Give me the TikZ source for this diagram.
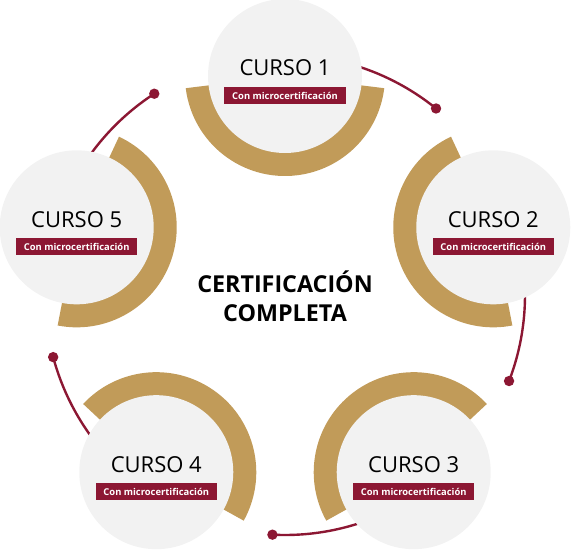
\documentclass[tikz,border=0pt]{standalone}
\usepackage{fontspec}
\setmainfont{Open Sans}
\usetikzlibrary{calc}
\definecolor{gold}{HTML}{C19B59}
\definecolor{wine}{HTML}{8C1733}
\definecolor{disc}{HTML}{F2F2F2}
\tikzset{
  discnode/.style={circle, fill=disc, minimum size=154pt, inner sep=0pt},
  cursotext/.style={font=\fontsize{22}{26}\selectfont, text=black, inner sep=0pt},
  badge/.style={fill=wine, text=white, font=\bfseries\fontsize{9.4}{11}\selectfont,
    minimum width=121pt, minimum height=17pt, inner sep=0pt},
  link/.style={wine, line width=2.4pt},
  centertext/.style={font=\bfseries\fontsize{23.3}{29}\selectfont, align=center, inner sep=0pt}
}
\begin{document}
\begin{tikzpicture}[x=1pt,y=1pt]
\useasboundingbox (-285,-257) rectangle (288,295);
\foreach \k in {1,...,5} {
  \pgfmathsetmacro\th{90-72*(\k-1)}
  \coordinate (c\k) at (\th:219);
}
% connectors
\foreach \k in {1,...,5} {
  \pgfmathsetmacro\a{90-72*(\k-1)-8}
  \pgfmathsetmacro\b{\a-31}
  \coordinate (s\k) at (\a:240);
  \coordinate (d\k) at (\b:240);
  \draw[link] (s\k) arc[start angle=\a, end angle=\b, radius=240];
  \fill[wine] (d\k) circle (5.2);
}
% gold arcs and discs
\foreach \k in {1,...,5} {
  \pgfmathsetmacro\ph{270-72*(\k-1)}
  \pgfmathsetmacro\pa{\ph-83}
  \pgfmathsetmacro\pb{\ph+83}
  \fill[gold] ($(c\k)+(\pa:100)$) arc[start angle=\pa, end angle=\pb, radius=100]
     -- ($(c\k)+(\pb:70)$) arc[start angle=\pb, end angle=\pa, radius=70] -- cycle;
  \node[discnode] (n\k) at (c\k) {};
  \node[cursotext] (t\k) at ($(c\k)+(0,8)$) {CURSO \k};
  \node[badge] (b\k) at ($(c\k)+(0,-19.5)$) {Con microcertificación};
}
\node[centertext] (center) at (0,-1.5) {CERTIFICACIÓN\\COMPLETA};
\end{tikzpicture}
\end{document}
